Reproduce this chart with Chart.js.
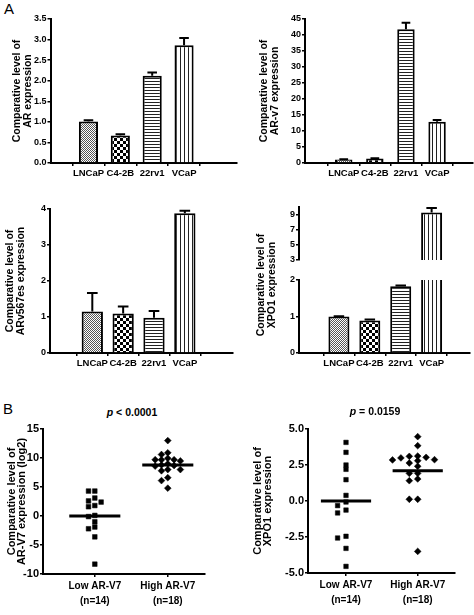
<!DOCTYPE html>
<html>
<head>
<meta charset="utf-8">
<script src="https://cdn.jsdelivr.net/npm/chart.js@4.4.1/dist/chart.umd.min.js"></script>
<style>
  body { margin: 0; background: #fff; width: 474px; height: 615px; position: relative; overflow: hidden;
         font-family: "Liberation Sans", Arial, sans-serif; }
  canvas { position: absolute; }
  .panel { position: absolute; font-size: 15px; }
  .pv { position: absolute; font-size: 10.5px; font-weight: bold; transform: translate(-50%, -50%); white-space: nowrap; }
  .ytitle { position: absolute; width: 200px; text-align: center; font-size: 10.5px; font-weight: bold; line-height: 11px;
            transform: translate(-50%, -50%) rotate(-90deg); }
</style>
</head>
<body>
<div class="panel" style="left:4px;top:0px">A</div>
<div class="panel" style="left:3px;top:400px">B</div>
<canvas id="arChart"></canvas>
<canvas id="arv7Chart"></canvas>
<canvas id="arv567Chart"></canvas>
<canvas id="xpo1HighChart"></canvas>
<canvas id="xpo1LowChart"></canvas>
<canvas id="arv7ScatterChart"></canvas>
<canvas id="xpo1ScatterChart"></canvas>
<div class="ytitle" style="left:266px;top:285px">Comparative level of<br>XPO1 expression</div>
<div class="pv" style="left:132px;top:412px"><i>p</i> &lt; 0.0001</div>
<div class="pv" style="left:375px;top:411px"><i>p</i> = 0.0159</div>
<script>
// cell line bar data (mean and SEM)
const cellLines = ["LNCaP", "C4-2B", "22rv1", "VCaP"];
const arMean = [1.01, 0.67, 2.12, 2.86];
const arSem = [0.03, 0.03, 0.08, 0.18];
const arv7Mean = [1.1, 1.4, 41.8, 12.9];
const arv7Sem = [0.1, 0.1, 2.0, 0.5];
const arv567Mean = [1.15, 1.10, 0.98, 3.88];
const arv567Sem = [0.52, 0.19, 0.19, 0.07];
const xpo1Mean = [1.0, 0.89, 1.83, 9.28];
const xpo1Sem = [0.01, 0.03, 0.02, 0.6];

const arTicks = [0, 0.5, 1, 1.5, 2, 2.5, 3, 3.5];
const arv7Ticks = [0, 5, 10, 15, 20, 25, 30, 35, 40, 45];
const arv567Ticks = [0, 1, 2, 3, 4];
const xpo1LowTicks = [0, 1, 2];
const xpo1HighTicks = [3, 5, 7, 9];

// patient groups (B)
const groups = [["Low AR-V7", "(n=14)"], ["High AR-V7", "(n=18)"]];
const arv7Low = [4.3, 4.3, 3.1, 2.6, 2.4, 1.8, 1.6, 0.1, -0.1, -1.0, -1.9, -2.2, -3.6, -8.3];
const arv7High = [13.0, 10.9, 10.6, 9.95, 9.7, 9.7, 9.7, 9.5, 9.0, 8.8, 8.7, 8.6, 8.0, 8.0, 7.8, 6.6, 6.1, 4.8];
const arv7Line = [0, 8.8];
const arv7ScatterTicks = [-10, -5, 0, 5, 10, 15];
const xpo1Low = [4.07, 3.38, 2.5, 2.2, 1.48, 0.39, -0.07, -0.32, -0.63, -0.83, -2.45, -2.57, -3.29, -4.54];
const xpo1High = [4.47, 3.84, 3.12, 3.1, 3.03, 2.99, 2.87, 2.85, 2.8, 2.64, 2.41, 1.92, 1.92, 1.53, 1.41, 0.12, 0.12, -3.5];
const xpo1Line = [0, 2.1];
const xpo1ScatterTicks = [-5, -2.5, 0, 2.5, 5];

const FONT = '"Liberation Sans", Arial, sans-serif';

function makePattern(kind) {
  const t = document.createElement('canvas');
  const c = t.getContext('2d');
  if (kind === 'fine') {
    t.width = 2; t.height = 2;
    c.fillStyle = '#fff'; c.fillRect(0, 0, 2, 2);
    c.fillStyle = '#555'; c.fillRect(0, 0, 1, 1); c.fillRect(1, 1, 1, 1);
  } else if (kind === 'check') {
    t.width = 6; t.height = 6;
    c.fillStyle = '#fff'; c.fillRect(0, 0, 6, 6);
    c.fillStyle = '#000'; c.fillRect(0, 0, 3, 3); c.fillRect(3, 3, 3, 3);
  } else if (kind === 'hlines') {
    t.width = 4; t.height = 3;
    c.fillStyle = '#fff'; c.fillRect(0, 0, 4, 3);
    c.fillStyle = '#222'; c.fillRect(0, 0, 4, 1);
  } else {
    t.width = 4; t.height = 4;
    c.fillStyle = '#fff'; c.fillRect(0, 0, 4, 4);
    c.fillStyle = '#222'; c.fillRect(0, 0, 1, 4);
  }
  return c.createPattern(t, 'repeat');
}
const patterns = [makePattern('fine'), makePattern('check'), makePattern('hlines'), makePattern('vlines')];

function place(id, b) {
  const c = document.getElementById(id);
  c.width = b.w; c.height = b.h;
  c.style.left = b.left + 'px'; c.style.top = b.top + 'px';
  return c;
}

// upper whisker with cap, GraphPad style
function errorBars(mean, sem) {
  return {
    id: 'errorBars',
    afterDatasetsDraw(chart) {
      const ctx = chart.ctx, ys = chart.scales.y;
      ctx.save();
      ctx.strokeStyle = '#000'; ctx.lineWidth = 2;
      chart.getDatasetMeta(0).data.forEach((bar, i) => {
        if (mean[i] > ys.max || mean[i] < ys.min) return;
        const y1 = ys.getPixelForValue(mean[i] + sem[i]);
        const half = bar.width * 0.25;
        ctx.beginPath();
        ctx.moveTo(bar.x, bar.y); ctx.lineTo(bar.x, y1);
        ctx.moveTo(bar.x - half, y1); ctx.lineTo(bar.x + half, y1);
        ctx.stroke();
      });
      ctx.restore();
    }
  };
}

function axisGrid() {
  return { drawOnChartArea: false, drawTicks: true, tickLength: 3, color: '#000', lineWidth: 1.5 };
}

function barChart(id, b, mean, sem, ticks, fmt, title) {
  const canvas = place(id, b);
  const showX = b.showX !== false;
  return new Chart(canvas, {
    type: 'bar',
    data: {
      datasets: [{
        data: mean.map((v, i) => ({ x: i, y: v })),
        backgroundColor: patterns,
        borderColor: '#000',
        borderWidth: 2,
        barPercentage: b.barPct,
        categoryPercentage: 1,
        clip: 0
      }]
    },
    options: {
      responsive: false,
      animation: false,
      layout: { padding: { left: 0, top: b.plotTop - b.top, right: b.left + b.w - b.axisRight, bottom: showX ? 0 : b.top + b.h - b.axisY } },
      plugins: { legend: { display: false }, tooltip: { enabled: false } },
      scales: {
        x: {
          type: 'linear', min: b.xMin, max: b.xMax, display: showX,
          afterBuildTicks: s => { s.ticks = cellLines.map((_, i) => ({ value: i })); },
          afterFit: s => { s.height = b.top + b.h - b.axisY; },
          ticks: { callback: v => cellLines[v], autoSkip: false, maxRotation: 0, color: '#000', padding: 2,
                   font: { family: FONT, size: 9.5, weight: 'bold' } },
          grid: axisGrid(),
          border: { color: '#000', width: 2 }
        },
        y: {
          min: ticks[0], max: b.yMax !== undefined ? b.yMax : ticks[ticks.length - 1],
          afterBuildTicks: s => { s.ticks = ticks.map(v => ({ value: v })); },
          afterFit: s => { s.width = b.axisX - b.left; },
          ticks: { callback: fmt, color: '#000', padding: 1, font: { family: FONT, size: 9, weight: 'bold' } },
          grid: axisGrid(),
          border: { color: '#000', width: 2 },
          title: title ? { display: true, text: title, color: '#000', padding: { top: b.titlePad, bottom: 0 },
                           font: { family: FONT, size: 10.5, weight: 'bold', lineHeight: 1.02 } } : { display: false }
        }
      }
    },
    plugins: [errorBars(mean, sem)]
  });
}

// spread points of equal height sideways (column scatter)
function swarm(values, pxPerUnit, stepPx, gapPx, pxPerX) {
  const placed = [];
  return values.map(v => {
    const y = v * pxPerUnit;
    for (let k = 0; k < 40; k++) {
      const off = k === 0 ? 0 : (k % 2 ? -1 : 1) * Math.ceil(k / 2) * stepPx;
      if (!placed.some(p => Math.abs(p.x - off) < stepPx && Math.abs(p.y - y) < gapPx)) {
        placed.push({ x: off, y: y });
        return off / pxPerX;
      }
    }
    return 0;
  });
}

function meanLines(lines) {
  return {
    id: 'meanLines',
    afterDatasetsDraw(chart) {
      const ctx = chart.ctx, xs = chart.scales.x, ys = chart.scales.y;
      ctx.save();
      ctx.strokeStyle = '#000'; ctx.lineWidth = 3;
      lines.forEach((v, i) => {
        const y = ys.getPixelForValue(v);
        ctx.beginPath();
        ctx.moveTo(xs.getPixelForValue(i - 0.35), y);
        ctx.lineTo(xs.getPixelForValue(i + 0.35), y);
        ctx.stroke();
      });
      ctx.restore();
    }
  };
}

function scatterChart(id, b, low, high, lines, ticks, fmt, title, sizes) {
  const canvas = place(id, b);
  const pxPerUnit = (b.axisY - b.plotTop) / (ticks[ticks.length - 1] - ticks[0]);
  const pxPerX = (b.axisRight - b.axisX) / (b.xMax - b.xMin);
  const offLow = swarm(low, pxPerUnit, sizes.step, sizes.gap, pxPerX);
  const offHigh = swarm(high, pxPerUnit, sizes.step, sizes.gap, pxPerX);
  return new Chart(canvas, {
    type: 'scatter',
    data: {
      datasets: [
        { data: low.map((v, i) => ({ x: 0 + offLow[i], y: v })), pointStyle: 'rect', pointRadius: sizes.rect,
          backgroundColor: '#000', borderColor: '#000', borderWidth: 0.5 },
        { data: high.map((v, i) => ({ x: 1 + offHigh[i], y: v })), pointStyle: 'rectRot', pointRadius: sizes.diamond,
          backgroundColor: '#000', borderColor: '#000', borderWidth: 0.5 }
      ]
    },
    options: {
      responsive: false,
      animation: false,
      layout: { padding: { left: 0, top: b.plotTop - b.top, right: b.left + b.w - b.axisRight, bottom: 0 } },
      plugins: { legend: { display: false }, tooltip: { enabled: false } },
      scales: {
        x: {
          type: 'linear', min: b.xMin, max: b.xMax,
          afterBuildTicks: s => { s.ticks = groups.map((_, i) => ({ value: i })); },
          afterFit: s => { s.height = b.top + b.h - b.axisY; },
          ticks: { callback: v => groups[v], autoSkip: false, maxRotation: 0, color: '#000', padding: 2,
                   font: { family: FONT, size: 10, weight: 'bold', lineHeight: 1.5 } },
          grid: axisGrid(),
          border: { color: '#000', width: 2 }
        },
        y: {
          min: ticks[0], max: ticks[ticks.length - 1],
          afterBuildTicks: s => { s.ticks = ticks.map(v => ({ value: v })); },
          afterFit: s => { s.width = b.axisX - b.left; },
          ticks: { callback: fmt, color: '#000', padding: 1, font: { family: FONT, size: 11, weight: 'bold' } },
          grid: axisGrid(),
          border: { color: '#000', width: 2 },
          title: { display: true, text: title, color: '#000', padding: { top: b.titlePad, bottom: 0 },
                   font: { family: FONT, size: 11, weight: 'bold', lineHeight: 0.92 } }
        }
      }
    },
    plugins: [meanLines(lines)]
  });
}

const oneDec = v => v.toFixed(1);
const plain = v => String(v);

barChart('arChart',
  { left: 0, top: 6, w: 240, h: 192, axisX: 50.5, plotTop: 19, axisY: 163, axisRight: 237, xMin: -0.46, xMax: 3.93, barPct: 0.6, titlePad: 12 },
  arMean, arSem, arTicks, oneDec, ["Comparative level of", "AR expression"]);

barChart('arv7Chart',
  { left: 240, top: 6, w: 234, h: 192, axisX: 305, plotTop: 19, axisY: 163, axisRight: 473, xMin: -0.57, xMax: 3.48, barPct: 0.56, titlePad: 19 },
  arv7Mean, arv7Sem, arv7Ticks, plain, ["Comparative level of", "AR-v7 expression"]);

barChart('arv567Chart',
  { left: 0, top: 198, w: 240, h: 192, axisX: 50, plotTop: 209, axisY: 353, axisRight: 233, xMin: -0.63, xMax: 3.82, barPct: 0.69, titlePad: 5 },
  arv567Mean, arv567Sem, arv567Ticks, plain, ["Comparative level of", "ARv567es expression"]);

// broken y axis: upper segment 3-10, lower segment 0-2
barChart('xpo1HighChart',
  { left: 240, top: 198, w: 234, h: 82, axisX: 299, plotTop: 207, axisY: 270, axisRight: 470, xMin: -0.6, xMax: 3.55, barPct: 0.68, showX: false, yMax: 10 },
  xpo1Mean, xpo1Sem, xpo1HighTicks, plain, null);

barChart('xpo1LowChart',
  { left: 240, top: 273, w: 234, h: 117, axisX: 299, plotTop: 280, axisY: 353, axisRight: 470, xMin: -0.6, xMax: 3.55, barPct: 0.68 },
  xpo1Mean, xpo1Sem, xpo1LowTicks, plain, null);

scatterChart('arv7ScatterChart',
  { left: 0, top: 420, w: 240, h: 195, axisX: 43, plotTop: 429, axisY: 574, axisRight: 205, xMin: -0.71, xMax: 1.51, titlePad: 7 },
  arv7Low, arv7High, arv7Line, arv7ScatterTicks, plain, ["Comparative level of", "AR-V7 expression (log2)"],
  { rect: 3.3, diamond: 3.4, step: 6.3, gap: 5 });

scatterChart('xpo1ScatterChart',
  { left: 240, top: 420, w: 234, h: 195, axisX: 308, plotTop: 429, axisY: 573, axisRight: 455, xMin: -0.53, xMax: 1.52, titlePad: 13 },
  xpo1Low, xpo1High, xpo1Line, xpo1ScatterTicks, oneDec, ["Comparative level of", "XPO1 expression"],
  { rect: 3.2, diamond: 3.4, step: 8.4, gap: 4 });
</script>
</body>
</html>
